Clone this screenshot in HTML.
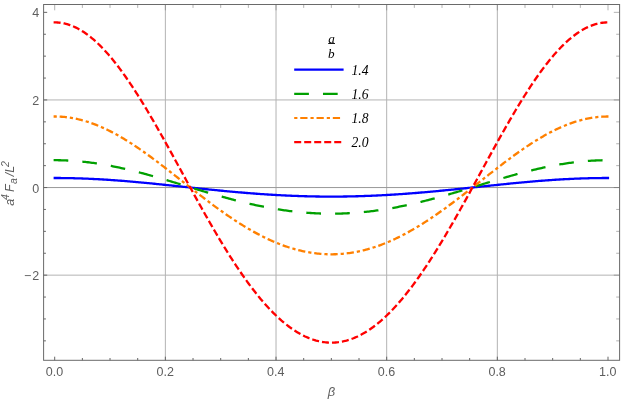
<!DOCTYPE html>
<html><head><meta charset="utf-8"><title>plot</title>
<style>
html,body{margin:0;padding:0;background:#fff;}
body{width:625px;height:400px;overflow:hidden;}
svg{display:block;will-change:transform;}
text{font-family:"Liberation Sans",sans-serif;}
.t{font-size:12.5px;fill:#5e5e5e;}
.s{font-family:"Liberation Serif",serif;font-style:italic;fill:#000;}
</style></head><body>
<svg width="625" height="400" viewBox="0 0 625 400">
<rect width="625" height="400" fill="#fff"/>
<g stroke="#b3b3b3" stroke-width="1" fill="none">
<line x1="165.36" y1="4.50" x2="165.36" y2="360.30"/>
<line x1="276.02" y1="4.50" x2="276.02" y2="360.30"/>
<line x1="386.68" y1="4.50" x2="386.68" y2="360.30"/>
<line x1="497.34" y1="4.50" x2="497.34" y2="360.30"/>
<line x1="43.60" y1="99.95" x2="619.60" y2="99.95"/>
<line x1="43.60" y1="187.55" x2="619.60" y2="187.55" stroke="#999"/>
<line x1="43.60" y1="275.15" x2="619.60" y2="275.15"/>
</g>
<path d="M53.60 178.00 L54.70 178.00 L56.08 178.00 L57.47 178.01 L58.85 178.01 L60.23 178.02 L61.62 178.03 L63.00 178.05 L64.38 178.06 L65.77 178.08 L67.15 178.10 L68.53 178.13 L69.92 178.15 L71.30 178.18 L72.68 178.22 L74.07 178.25 L75.45 178.29 L76.83 178.32 L78.22 178.37 L79.60 178.41 L80.98 178.46 L82.37 178.50 L83.75 178.56 L85.13 178.61 L86.51 178.66 L87.90 178.72 L89.28 178.78 L90.66 178.85 L92.05 178.91 L93.43 178.98 L94.81 179.05 L96.20 179.12 L97.58 179.19 L98.96 179.27 L100.35 179.35 L101.73 179.43 L103.11 179.51 L104.50 179.59 L105.88 179.68 L107.26 179.77 L108.65 179.86 L110.03 179.95 L111.41 180.04 L112.80 180.14 L114.18 180.24 L115.56 180.34 L116.95 180.44 L118.33 180.54 L119.71 180.65 L121.10 180.76 L122.48 180.86 L123.86 180.97 L125.25 181.09 L126.63 181.20 L128.01 181.32 L129.40 181.43 L130.78 181.55 L132.16 181.67 L133.55 181.79 L134.93 181.91 L136.31 182.04 L137.69 182.16 L139.08 182.29 L140.46 182.42 L141.84 182.54 L143.23 182.67 L144.61 182.80 L145.99 182.94 L147.38 183.07 L148.76 183.20 L150.14 183.34 L151.53 183.48 L152.91 183.61 L154.29 183.75 L155.68 183.89 L157.06 184.03 L158.44 184.17 L159.83 184.31 L161.21 184.45 L162.59 184.59 L163.98 184.74 L165.36 184.88 L166.74 185.02 L168.13 185.17 L169.51 185.31 L170.89 185.46 L172.28 185.60 L173.66 185.75 L175.04 185.89 L176.43 186.04 L177.81 186.19 L179.19 186.33 L180.58 186.48 L181.96 186.63 L183.34 186.77 L184.73 186.92 L186.11 187.07 L187.49 187.21 L188.88 187.36 L190.26 187.51 L191.64 187.65 L193.02 187.80 L194.41 187.95 L195.79 188.09 L197.17 188.24 L198.56 188.38 L199.94 188.53 L201.32 188.67 L202.71 188.81 L204.09 188.96 L205.47 189.10 L206.86 189.24 L208.24 189.38 L209.62 189.52 L211.01 189.66 L212.39 189.80 L213.77 189.94 L215.16 190.08 L216.54 190.22 L217.92 190.36 L219.31 190.49 L220.69 190.63 L222.07 190.76 L223.46 190.89 L224.84 191.02 L226.22 191.16 L227.61 191.29 L228.99 191.41 L230.37 191.54 L231.76 191.67 L233.14 191.79 L234.52 191.92 L235.91 192.04 L237.29 192.16 L238.67 192.28 L240.06 192.40 L241.44 192.52 L242.82 192.64 L244.21 192.75 L245.59 192.87 L246.97 192.98 L248.35 193.09 L249.74 193.20 L251.12 193.31 L252.50 193.42 L253.89 193.52 L255.27 193.63 L256.65 193.73 L258.04 193.83 L259.42 193.93 L260.80 194.03 L262.19 194.13 L263.57 194.22 L264.95 194.31 L266.34 194.40 L267.72 194.49 L269.10 194.58 L270.49 194.67 L271.87 194.75 L273.25 194.84 L274.64 194.92 L276.02 195.00 L277.40 195.07 L278.79 195.15 L280.17 195.22 L281.55 195.29 L282.94 195.37 L284.32 195.43 L285.70 195.50 L287.09 195.56 L288.47 195.63 L289.85 195.69 L291.24 195.75 L292.62 195.80 L294.00 195.86 L295.39 195.91 L296.77 195.96 L298.15 196.01 L299.54 196.06 L300.92 196.11 L302.30 196.15 L303.69 196.19 L305.07 196.23 L306.45 196.27 L307.83 196.30 L309.22 196.34 L310.60 196.37 L311.98 196.40 L313.37 196.43 L314.75 196.45 L316.13 196.48 L317.52 196.50 L318.90 196.52 L320.28 196.53 L321.67 196.55 L323.05 196.56 L324.43 196.57 L325.82 196.58 L327.20 196.59 L328.58 196.59 L329.97 196.60 L331.35 196.60 L332.73 196.60 L334.12 196.59 L335.50 196.59 L336.88 196.58 L338.27 196.57 L339.65 196.56 L341.03 196.55 L342.42 196.53 L343.80 196.52 L345.18 196.50 L346.57 196.48 L347.95 196.45 L349.33 196.43 L350.72 196.40 L352.10 196.37 L353.48 196.34 L354.87 196.30 L356.25 196.27 L357.63 196.23 L359.01 196.19 L360.40 196.15 L361.78 196.11 L363.16 196.06 L364.55 196.01 L365.93 195.96 L367.31 195.91 L368.70 195.86 L370.08 195.80 L371.46 195.75 L372.85 195.69 L374.23 195.63 L375.61 195.56 L377.00 195.50 L378.38 195.43 L379.76 195.37 L381.15 195.29 L382.53 195.22 L383.91 195.15 L385.30 195.07 L386.68 195.00 L388.06 194.92 L389.45 194.84 L390.83 194.75 L392.21 194.67 L393.60 194.58 L394.98 194.49 L396.36 194.40 L397.75 194.31 L399.13 194.22 L400.51 194.13 L401.90 194.03 L403.28 193.93 L404.66 193.83 L406.05 193.73 L407.43 193.63 L408.81 193.52 L410.20 193.42 L411.58 193.31 L412.96 193.20 L414.34 193.09 L415.73 192.98 L417.11 192.87 L418.49 192.75 L419.88 192.64 L421.26 192.52 L422.64 192.40 L424.03 192.28 L425.41 192.16 L426.79 192.04 L428.18 191.92 L429.56 191.79 L430.94 191.67 L432.33 191.54 L433.71 191.41 L435.09 191.29 L436.48 191.16 L437.86 191.02 L439.24 190.89 L440.63 190.76 L442.01 190.63 L443.39 190.49 L444.78 190.36 L446.16 190.22 L447.54 190.08 L448.93 189.94 L450.31 189.80 L451.69 189.66 L453.08 189.52 L454.46 189.38 L455.84 189.24 L457.23 189.10 L458.61 188.96 L459.99 188.81 L461.38 188.67 L462.76 188.53 L464.14 188.38 L465.53 188.24 L466.91 188.09 L468.29 187.95 L469.67 187.80 L471.06 187.65 L472.44 187.51 L473.82 187.36 L475.21 187.21 L476.59 187.07 L477.97 186.92 L479.36 186.77 L480.74 186.63 L482.12 186.48 L483.51 186.33 L484.89 186.19 L486.27 186.04 L487.66 185.89 L489.04 185.75 L490.42 185.60 L491.81 185.46 L493.19 185.31 L494.57 185.17 L495.96 185.02 L497.34 184.88 L498.72 184.74 L500.11 184.59 L501.49 184.45 L502.87 184.31 L504.26 184.17 L505.64 184.03 L507.02 183.89 L508.41 183.75 L509.79 183.61 L511.17 183.48 L512.56 183.34 L513.94 183.20 L515.32 183.07 L516.71 182.94 L518.09 182.80 L519.47 182.67 L520.86 182.54 L522.24 182.42 L523.62 182.29 L525.00 182.16 L526.39 182.04 L527.77 181.91 L529.15 181.79 L530.54 181.67 L531.92 181.55 L533.30 181.43 L534.69 181.32 L536.07 181.20 L537.45 181.09 L538.84 180.97 L540.22 180.86 L541.60 180.76 L542.99 180.65 L544.37 180.54 L545.75 180.44 L547.14 180.34 L548.52 180.24 L549.90 180.14 L551.29 180.04 L552.67 179.95 L554.05 179.86 L555.44 179.77 L556.82 179.68 L558.20 179.59 L559.59 179.51 L560.97 179.43 L562.35 179.35 L563.74 179.27 L565.12 179.19 L566.50 179.12 L567.89 179.05 L569.27 178.98 L570.65 178.91 L572.04 178.85 L573.42 178.78 L574.80 178.72 L576.19 178.66 L577.57 178.61 L578.95 178.56 L580.33 178.50 L581.72 178.46 L583.10 178.41 L584.48 178.37 L585.87 178.32 L587.25 178.29 L588.63 178.25 L590.02 178.22 L591.40 178.18 L592.78 178.15 L594.17 178.13 L595.55 178.10 L596.93 178.08 L598.32 178.06 L599.70 178.05 L601.08 178.03 L602.47 178.02 L603.85 178.01 L605.23 178.01 L606.62 178.00 L608.00 178.00 L609.10 178.00" fill="none" stroke="#0000ff" stroke-width="2.3"/>
<path d="M53.60 160.20 L54.70 160.20 L56.08 160.20 L57.47 160.22 L58.85 160.23 L60.23 160.26 L61.62 160.29 L63.00 160.33 L64.38 160.38 L65.77 160.43 L67.15 160.49 L68.53 160.56 L69.92 160.64 L71.30 160.72 L72.68 160.81 L74.07 160.90 L75.45 161.01 L76.83 161.12 L78.22 161.23 L79.60 161.36 L80.98 161.49 L82.37 161.63 L83.75 161.77 L85.13 161.92 L86.51 162.08 L87.90 162.24 L89.28 162.41 L90.66 162.59 L92.05 162.77 L93.43 162.96 L94.81 163.16 L96.20 163.36 L97.58 163.57 L98.96 163.79 L100.35 164.01 L101.73 164.24 L103.11 164.47 L104.50 164.71 L105.88 164.95 L107.26 165.21 L108.65 165.46 L110.03 165.72 L111.41 165.99 L112.80 166.27 L114.18 166.54 L115.56 166.83 L116.95 167.12 L118.33 167.41 L119.71 167.71 L121.10 168.01 L122.48 168.32 L123.86 168.64 L125.25 168.95 L126.63 169.28 L128.01 169.60 L129.40 169.94 L130.78 170.27 L132.16 170.61 L133.55 170.96 L134.93 171.30 L136.31 171.66 L137.69 172.01 L139.08 172.37 L140.46 172.74 L141.84 173.10 L143.23 173.47 L144.61 173.85 L145.99 174.22 L147.38 174.60 L148.76 174.99 L150.14 175.37 L151.53 175.76 L152.91 176.15 L154.29 176.54 L155.68 176.94 L157.06 177.34 L158.44 177.74 L159.83 178.14 L161.21 178.55 L162.59 178.95 L163.98 179.36 L165.36 179.77 L166.74 180.18 L168.13 180.59 L169.51 181.01 L170.89 181.42 L172.28 181.84 L173.66 182.26 L175.04 182.68 L176.43 183.10 L177.81 183.52 L179.19 183.94 L180.58 184.36 L181.96 184.78 L183.34 185.20 L184.73 185.62 L186.11 186.04 L187.49 186.47 L188.88 186.89 L190.26 187.31 L191.64 187.73 L193.02 188.15 L194.41 188.57 L195.79 188.99 L197.17 189.41 L198.56 189.82 L199.94 190.24 L201.32 190.66 L202.71 191.07 L204.09 191.48 L205.47 191.90 L206.86 192.31 L208.24 192.71 L209.62 193.12 L211.01 193.52 L212.39 193.93 L213.77 194.33 L215.16 194.73 L216.54 195.12 L217.92 195.52 L219.31 195.91 L220.69 196.30 L222.07 196.69 L223.46 197.07 L224.84 197.46 L226.22 197.83 L227.61 198.21 L228.99 198.58 L230.37 198.95 L231.76 199.32 L233.14 199.69 L234.52 200.05 L235.91 200.40 L237.29 200.76 L238.67 201.11 L240.06 201.46 L241.44 201.80 L242.82 202.14 L244.21 202.47 L245.59 202.81 L246.97 203.13 L248.35 203.46 L249.74 203.78 L251.12 204.09 L252.50 204.41 L253.89 204.71 L255.27 205.02 L256.65 205.31 L258.04 205.61 L259.42 205.90 L260.80 206.18 L262.19 206.46 L263.57 206.74 L264.95 207.01 L266.34 207.28 L267.72 207.54 L269.10 207.80 L270.49 208.05 L271.87 208.29 L273.25 208.54 L274.64 208.77 L276.02 209.00 L277.40 209.23 L278.79 209.45 L280.17 209.67 L281.55 209.88 L282.94 210.08 L284.32 210.28 L285.70 210.48 L287.09 210.67 L288.47 210.85 L289.85 211.03 L291.24 211.20 L292.62 211.37 L294.00 211.53 L295.39 211.69 L296.77 211.84 L298.15 211.98 L299.54 212.12 L300.92 212.25 L302.30 212.38 L303.69 212.50 L305.07 212.62 L306.45 212.73 L307.83 212.83 L309.22 212.93 L310.60 213.02 L311.98 213.11 L313.37 213.19 L314.75 213.27 L316.13 213.34 L317.52 213.40 L318.90 213.46 L320.28 213.51 L321.67 213.55 L323.05 213.59 L324.43 213.62 L325.82 213.65 L327.20 213.67 L328.58 213.69 L329.97 213.70 L331.35 213.70 L332.73 213.70 L334.12 213.69 L335.50 213.67 L336.88 213.65 L338.27 213.62 L339.65 213.59 L341.03 213.55 L342.42 213.51 L343.80 213.46 L345.18 213.40 L346.57 213.34 L347.95 213.27 L349.33 213.19 L350.72 213.11 L352.10 213.02 L353.48 212.93 L354.87 212.83 L356.25 212.73 L357.63 212.62 L359.01 212.50 L360.40 212.38 L361.78 212.25 L363.16 212.12 L364.55 211.98 L365.93 211.84 L367.31 211.69 L368.70 211.53 L370.08 211.37 L371.46 211.20 L372.85 211.03 L374.23 210.85 L375.61 210.67 L377.00 210.48 L378.38 210.28 L379.76 210.08 L381.15 209.88 L382.53 209.67 L383.91 209.45 L385.30 209.23 L386.68 209.00 L388.06 208.77 L389.45 208.54 L390.83 208.29 L392.21 208.05 L393.60 207.80 L394.98 207.54 L396.36 207.28 L397.75 207.01 L399.13 206.74 L400.51 206.46 L401.90 206.18 L403.28 205.90 L404.66 205.61 L406.05 205.31 L407.43 205.02 L408.81 204.71 L410.20 204.41 L411.58 204.09 L412.96 203.78 L414.34 203.46 L415.73 203.13 L417.11 202.81 L418.49 202.47 L419.88 202.14 L421.26 201.80 L422.64 201.46 L424.03 201.11 L425.41 200.76 L426.79 200.40 L428.18 200.05 L429.56 199.69 L430.94 199.32 L432.33 198.95 L433.71 198.58 L435.09 198.21 L436.48 197.83 L437.86 197.46 L439.24 197.07 L440.63 196.69 L442.01 196.30 L443.39 195.91 L444.78 195.52 L446.16 195.12 L447.54 194.73 L448.93 194.33 L450.31 193.93 L451.69 193.52 L453.08 193.12 L454.46 192.71 L455.84 192.31 L457.23 191.90 L458.61 191.48 L459.99 191.07 L461.38 190.66 L462.76 190.24 L464.14 189.82 L465.53 189.41 L466.91 188.99 L468.29 188.57 L469.67 188.15 L471.06 187.73 L472.44 187.31 L473.82 186.89 L475.21 186.47 L476.59 186.04 L477.97 185.62 L479.36 185.20 L480.74 184.78 L482.12 184.36 L483.51 183.94 L484.89 183.52 L486.27 183.10 L487.66 182.68 L489.04 182.26 L490.42 181.84 L491.81 181.42 L493.19 181.01 L494.57 180.59 L495.96 180.18 L497.34 179.77 L498.72 179.36 L500.11 178.95 L501.49 178.55 L502.87 178.14 L504.26 177.74 L505.64 177.34 L507.02 176.94 L508.41 176.54 L509.79 176.15 L511.17 175.76 L512.56 175.37 L513.94 174.99 L515.32 174.60 L516.71 174.22 L518.09 173.85 L519.47 173.47 L520.86 173.10 L522.24 172.74 L523.62 172.37 L525.00 172.01 L526.39 171.66 L527.77 171.30 L529.15 170.96 L530.54 170.61 L531.92 170.27 L533.30 169.94 L534.69 169.60 L536.07 169.28 L537.45 168.95 L538.84 168.64 L540.22 168.32 L541.60 168.01 L542.99 167.71 L544.37 167.41 L545.75 167.12 L547.14 166.83 L548.52 166.54 L549.90 166.27 L551.29 165.99 L552.67 165.72 L554.05 165.46 L555.44 165.21 L556.82 164.95 L558.20 164.71 L559.59 164.47 L560.97 164.24 L562.35 164.01 L563.74 163.79 L565.12 163.57 L566.50 163.36 L567.89 163.16 L569.27 162.96 L570.65 162.77 L572.04 162.59 L573.42 162.41 L574.80 162.24 L576.19 162.08 L577.57 161.92 L578.95 161.77 L580.33 161.63 L581.72 161.49 L583.10 161.36 L584.48 161.23 L585.87 161.12 L587.25 161.01 L588.63 160.90 L590.02 160.81 L591.40 160.72 L592.78 160.64 L594.17 160.56 L595.55 160.49 L596.93 160.43 L598.32 160.38 L599.70 160.33 L601.08 160.29 L602.47 160.26 L603.85 160.23 L605.23 160.22 L606.62 160.20 L608.00 160.20 L609.10 160.20" fill="none" stroke="#00a000" stroke-width="2.3" stroke-dasharray="14.7 14.08"/>
<path d="M53.60 116.51 L54.70 116.51 L56.08 116.52 L57.47 116.54 L58.85 116.59 L60.23 116.66 L61.62 116.75 L63.00 116.85 L64.38 116.97 L65.77 117.12 L67.15 117.28 L68.53 117.46 L69.92 117.66 L71.30 117.88 L72.68 118.11 L74.07 118.37 L75.45 118.64 L76.83 118.94 L78.22 119.25 L79.60 119.58 L80.98 119.92 L82.37 120.29 L83.75 120.67 L85.13 121.07 L86.51 121.49 L87.90 121.93 L89.28 122.38 L90.66 122.85 L92.05 123.34 L93.43 123.84 L94.81 124.36 L96.20 124.90 L97.58 125.45 L98.96 126.02 L100.35 126.61 L101.73 127.21 L103.11 127.83 L104.50 128.46 L105.88 129.11 L107.26 129.78 L108.65 130.45 L110.03 131.15 L111.41 131.86 L112.80 132.58 L114.18 133.31 L115.56 134.06 L116.95 134.82 L118.33 135.60 L119.71 136.39 L121.10 137.19 L122.48 138.01 L123.86 138.83 L125.25 139.67 L126.63 140.52 L128.01 141.38 L129.40 142.26 L130.78 143.14 L132.16 144.04 L133.55 144.94 L134.93 145.86 L136.31 146.78 L137.69 147.72 L139.08 148.66 L140.46 149.61 L141.84 150.58 L143.23 151.55 L144.61 152.53 L145.99 153.51 L147.38 154.51 L148.76 155.51 L150.14 156.52 L151.53 157.53 L152.91 158.55 L154.29 159.58 L155.68 160.62 L157.06 161.66 L158.44 162.70 L159.83 163.75 L161.21 164.81 L162.59 165.87 L163.98 166.93 L165.36 168.00 L166.74 169.07 L168.13 170.14 L169.51 171.22 L170.89 172.30 L172.28 173.38 L173.66 174.46 L175.04 175.55 L176.43 176.64 L177.81 177.72 L179.19 178.81 L180.58 179.90 L181.96 180.99 L183.34 182.08 L184.73 183.17 L186.11 184.26 L187.49 185.35 L188.88 186.44 L190.26 187.53 L191.64 188.61 L193.02 189.70 L194.41 190.78 L195.79 191.86 L197.17 192.93 L198.56 194.01 L199.94 195.08 L201.32 196.14 L202.71 197.20 L204.09 198.26 L205.47 199.32 L206.86 200.37 L208.24 201.41 L209.62 202.46 L211.01 203.49 L212.39 204.52 L213.77 205.55 L215.16 206.56 L216.54 207.58 L217.92 208.58 L219.31 209.58 L220.69 210.58 L222.07 211.56 L223.46 212.54 L224.84 213.51 L226.22 214.48 L227.61 215.43 L228.99 216.38 L230.37 217.32 L231.76 218.25 L233.14 219.18 L234.52 220.09 L235.91 221.00 L237.29 221.89 L238.67 222.78 L240.06 223.66 L241.44 224.52 L242.82 225.38 L244.21 226.23 L245.59 227.07 L246.97 227.89 L248.35 228.71 L249.74 229.52 L251.12 230.31 L252.50 231.10 L253.89 231.87 L255.27 232.63 L256.65 233.38 L258.04 234.12 L259.42 234.85 L260.80 235.56 L262.19 236.27 L263.57 236.96 L264.95 237.64 L266.34 238.31 L267.72 238.96 L269.10 239.60 L270.49 240.23 L271.87 240.85 L273.25 241.46 L274.64 242.05 L276.02 242.63 L277.40 243.19 L278.79 243.74 L280.17 244.28 L281.55 244.81 L282.94 245.32 L284.32 245.82 L285.70 246.30 L287.09 246.78 L288.47 247.23 L289.85 247.68 L291.24 248.11 L292.62 248.52 L294.00 248.92 L295.39 249.31 L296.77 249.69 L298.15 250.04 L299.54 250.39 L300.92 250.72 L302.30 251.04 L303.69 251.34 L305.07 251.63 L306.45 251.90 L307.83 252.16 L309.22 252.40 L310.60 252.63 L311.98 252.85 L313.37 253.05 L314.75 253.23 L316.13 253.40 L317.52 253.56 L318.90 253.70 L320.28 253.83 L321.67 253.94 L323.05 254.03 L324.43 254.12 L325.82 254.18 L327.20 254.23 L328.58 254.27 L329.97 254.29 L331.35 254.30 L332.73 254.29 L334.12 254.27 L335.50 254.23 L336.88 254.18 L338.27 254.12 L339.65 254.03 L341.03 253.94 L342.42 253.83 L343.80 253.70 L345.18 253.56 L346.57 253.40 L347.95 253.23 L349.33 253.05 L350.72 252.85 L352.10 252.63 L353.48 252.40 L354.87 252.16 L356.25 251.90 L357.63 251.63 L359.01 251.34 L360.40 251.04 L361.78 250.72 L363.16 250.39 L364.55 250.04 L365.93 249.69 L367.31 249.31 L368.70 248.92 L370.08 248.52 L371.46 248.11 L372.85 247.68 L374.23 247.23 L375.61 246.78 L377.00 246.30 L378.38 245.82 L379.76 245.32 L381.15 244.81 L382.53 244.28 L383.91 243.74 L385.30 243.19 L386.68 242.63 L388.06 242.05 L389.45 241.46 L390.83 240.85 L392.21 240.23 L393.60 239.60 L394.98 238.96 L396.36 238.31 L397.75 237.64 L399.13 236.96 L400.51 236.27 L401.90 235.56 L403.28 234.85 L404.66 234.12 L406.05 233.38 L407.43 232.63 L408.81 231.87 L410.20 231.10 L411.58 230.31 L412.96 229.52 L414.34 228.71 L415.73 227.89 L417.11 227.07 L418.49 226.23 L419.88 225.38 L421.26 224.52 L422.64 223.66 L424.03 222.78 L425.41 221.89 L426.79 221.00 L428.18 220.09 L429.56 219.18 L430.94 218.25 L432.33 217.32 L433.71 216.38 L435.09 215.43 L436.48 214.48 L437.86 213.51 L439.24 212.54 L440.63 211.56 L442.01 210.58 L443.39 209.58 L444.78 208.58 L446.16 207.58 L447.54 206.56 L448.93 205.55 L450.31 204.52 L451.69 203.49 L453.08 202.46 L454.46 201.41 L455.84 200.37 L457.23 199.32 L458.61 198.26 L459.99 197.20 L461.38 196.14 L462.76 195.08 L464.14 194.01 L465.53 192.93 L466.91 191.86 L468.29 190.78 L469.67 189.70 L471.06 188.61 L472.44 187.53 L473.82 186.44 L475.21 185.35 L476.59 184.26 L477.97 183.17 L479.36 182.08 L480.74 180.99 L482.12 179.90 L483.51 178.81 L484.89 177.72 L486.27 176.64 L487.66 175.55 L489.04 174.46 L490.42 173.38 L491.81 172.30 L493.19 171.22 L494.57 170.14 L495.96 169.07 L497.34 168.00 L498.72 166.93 L500.11 165.87 L501.49 164.81 L502.87 163.75 L504.26 162.70 L505.64 161.66 L507.02 160.62 L508.41 159.58 L509.79 158.55 L511.17 157.53 L512.56 156.52 L513.94 155.51 L515.32 154.51 L516.71 153.51 L518.09 152.53 L519.47 151.55 L520.86 150.58 L522.24 149.61 L523.62 148.66 L525.00 147.72 L526.39 146.78 L527.77 145.86 L529.15 144.94 L530.54 144.04 L531.92 143.14 L533.30 142.26 L534.69 141.38 L536.07 140.52 L537.45 139.67 L538.84 138.83 L540.22 138.01 L541.60 137.19 L542.99 136.39 L544.37 135.60 L545.75 134.82 L547.14 134.06 L548.52 133.31 L549.90 132.58 L551.29 131.86 L552.67 131.15 L554.05 130.45 L555.44 129.78 L556.82 129.11 L558.20 128.46 L559.59 127.83 L560.97 127.21 L562.35 126.61 L563.74 126.02 L565.12 125.45 L566.50 124.90 L567.89 124.36 L569.27 123.84 L570.65 123.34 L572.04 122.85 L573.42 122.38 L574.80 121.93 L576.19 121.49 L577.57 121.07 L578.95 120.67 L580.33 120.29 L581.72 119.92 L583.10 119.58 L584.48 119.25 L585.87 118.94 L587.25 118.64 L588.63 118.37 L590.02 118.11 L591.40 117.88 L592.78 117.66 L594.17 117.46 L595.55 117.28 L596.93 117.12 L598.32 116.97 L599.70 116.85 L601.08 116.75 L602.47 116.66 L603.85 116.59 L605.23 116.54 L606.62 116.52 L608.00 116.51 L609.10 116.51" fill="none" stroke="#ff8000" stroke-width="2.3" stroke-dasharray="3.2 2.85 7.25 2.98"/>
<path d="M53.60 22.40 L54.70 22.40 L56.08 22.42 L57.47 22.49 L58.85 22.60 L60.23 22.76 L61.62 22.96 L63.00 23.20 L64.38 23.49 L65.77 23.82 L67.15 24.20 L68.53 24.62 L69.92 25.08 L71.30 25.59 L72.68 26.14 L74.07 26.74 L75.45 27.37 L76.83 28.05 L78.22 28.78 L79.60 29.54 L80.98 30.35 L82.37 31.20 L83.75 32.09 L85.13 33.02 L86.51 33.99 L87.90 35.01 L89.28 36.06 L90.66 37.16 L92.05 38.29 L93.43 39.46 L94.81 40.68 L96.20 41.93 L97.58 43.21 L98.96 44.54 L100.35 45.90 L101.73 47.31 L103.11 48.74 L104.50 50.21 L105.88 51.72 L107.26 53.27 L108.65 54.84 L110.03 56.46 L111.41 58.10 L112.80 59.78 L114.18 61.49 L115.56 63.23 L116.95 65.01 L118.33 66.81 L119.71 68.65 L121.10 70.51 L122.48 72.40 L123.86 74.33 L125.25 76.28 L126.63 78.25 L128.01 80.26 L129.40 82.29 L130.78 84.35 L132.16 86.43 L133.55 88.53 L134.93 90.66 L136.31 92.81 L137.69 94.99 L139.08 97.18 L140.46 99.40 L141.84 101.64 L143.23 103.89 L144.61 106.17 L145.99 108.46 L147.38 110.77 L148.76 113.10 L150.14 115.45 L151.53 117.81 L152.91 120.19 L154.29 122.58 L155.68 124.98 L157.06 127.40 L158.44 129.83 L159.83 132.27 L161.21 134.72 L162.59 137.18 L163.98 139.66 L165.36 142.14 L166.74 144.62 L168.13 147.12 L169.51 149.62 L170.89 152.13 L172.28 154.65 L173.66 157.17 L175.04 159.69 L176.43 162.22 L177.81 164.75 L179.19 167.28 L180.58 169.82 L181.96 172.35 L183.34 174.88 L184.73 177.42 L186.11 179.95 L187.49 182.48 L188.88 185.01 L190.26 187.54 L191.64 190.06 L193.02 192.58 L194.41 195.09 L195.79 197.60 L197.17 200.10 L198.56 202.59 L199.94 205.08 L201.32 207.56 L202.71 210.03 L204.09 212.49 L205.47 214.94 L206.86 217.38 L208.24 219.81 L209.62 222.23 L211.01 224.63 L212.39 227.03 L213.77 229.41 L215.16 231.78 L216.54 234.13 L217.92 236.47 L219.31 238.79 L220.69 241.10 L222.07 243.39 L223.46 245.66 L224.84 247.92 L226.22 250.16 L227.61 252.38 L228.99 254.58 L230.37 256.77 L231.76 258.93 L233.14 261.07 L234.52 263.20 L235.91 265.30 L237.29 267.38 L238.67 269.44 L240.06 271.48 L241.44 273.50 L242.82 275.49 L244.21 277.46 L245.59 279.40 L246.97 281.32 L248.35 283.22 L249.74 285.09 L251.12 286.94 L252.50 288.76 L253.89 290.56 L255.27 292.33 L256.65 294.07 L258.04 295.79 L259.42 297.48 L260.80 299.14 L262.19 300.77 L263.57 302.38 L264.95 303.96 L266.34 305.51 L267.72 307.03 L269.10 308.52 L270.49 309.98 L271.87 311.42 L273.25 312.82 L274.64 314.19 L276.02 315.54 L277.40 316.85 L278.79 318.13 L280.17 319.38 L281.55 320.61 L282.94 321.79 L284.32 322.95 L285.70 324.08 L287.09 325.17 L288.47 326.24 L289.85 327.27 L291.24 328.26 L292.62 329.23 L294.00 330.16 L295.39 331.06 L296.77 331.93 L298.15 332.76 L299.54 333.56 L300.92 334.33 L302.30 335.07 L303.69 335.77 L305.07 336.44 L306.45 337.07 L307.83 337.67 L309.22 338.24 L310.60 338.77 L311.98 339.27 L313.37 339.73 L314.75 340.16 L316.13 340.56 L317.52 340.92 L318.90 341.25 L320.28 341.54 L321.67 341.80 L323.05 342.02 L324.43 342.21 L325.82 342.37 L327.20 342.49 L328.58 342.58 L329.97 342.63 L331.35 342.65 L332.73 342.63 L334.12 342.58 L335.50 342.49 L336.88 342.37 L338.27 342.21 L339.65 342.02 L341.03 341.80 L342.42 341.54 L343.80 341.25 L345.18 340.92 L346.57 340.56 L347.95 340.16 L349.33 339.73 L350.72 339.27 L352.10 338.77 L353.48 338.24 L354.87 337.67 L356.25 337.07 L357.63 336.44 L359.01 335.77 L360.40 335.07 L361.78 334.33 L363.16 333.56 L364.55 332.76 L365.93 331.93 L367.31 331.06 L368.70 330.16 L370.08 329.23 L371.46 328.26 L372.85 327.27 L374.23 326.24 L375.61 325.17 L377.00 324.08 L378.38 322.95 L379.76 321.79 L381.15 320.61 L382.53 319.38 L383.91 318.13 L385.30 316.85 L386.68 315.54 L388.06 314.19 L389.45 312.82 L390.83 311.42 L392.21 309.98 L393.60 308.52 L394.98 307.03 L396.36 305.51 L397.75 303.96 L399.13 302.38 L400.51 300.77 L401.90 299.14 L403.28 297.48 L404.66 295.79 L406.05 294.07 L407.43 292.33 L408.81 290.56 L410.20 288.76 L411.58 286.94 L412.96 285.09 L414.34 283.22 L415.73 281.32 L417.11 279.40 L418.49 277.46 L419.88 275.49 L421.26 273.50 L422.64 271.48 L424.03 269.44 L425.41 267.38 L426.79 265.30 L428.18 263.20 L429.56 261.07 L430.94 258.93 L432.33 256.77 L433.71 254.58 L435.09 252.38 L436.48 250.16 L437.86 247.92 L439.24 245.66 L440.63 243.39 L442.01 241.10 L443.39 238.79 L444.78 236.47 L446.16 234.13 L447.54 231.78 L448.93 229.41 L450.31 227.03 L451.69 224.63 L453.08 222.23 L454.46 219.81 L455.84 217.38 L457.23 214.94 L458.61 212.49 L459.99 210.03 L461.38 207.56 L462.76 205.08 L464.14 202.59 L465.53 200.10 L466.91 197.60 L468.29 195.09 L469.67 192.58 L471.06 190.06 L472.44 187.54 L473.82 185.01 L475.21 182.48 L476.59 179.95 L477.97 177.42 L479.36 174.88 L480.74 172.35 L482.12 169.82 L483.51 167.28 L484.89 164.75 L486.27 162.22 L487.66 159.69 L489.04 157.17 L490.42 154.65 L491.81 152.13 L493.19 149.62 L494.57 147.12 L495.96 144.62 L497.34 142.14 L498.72 139.66 L500.11 137.18 L501.49 134.72 L502.87 132.27 L504.26 129.83 L505.64 127.40 L507.02 124.98 L508.41 122.58 L509.79 120.19 L511.17 117.81 L512.56 115.45 L513.94 113.10 L515.32 110.77 L516.71 108.46 L518.09 106.17 L519.47 103.89 L520.86 101.64 L522.24 99.40 L523.62 97.18 L525.00 94.99 L526.39 92.81 L527.77 90.66 L529.15 88.53 L530.54 86.43 L531.92 84.35 L533.30 82.29 L534.69 80.26 L536.07 78.25 L537.45 76.28 L538.84 74.33 L540.22 72.40 L541.60 70.51 L542.99 68.65 L544.37 66.81 L545.75 65.01 L547.14 63.23 L548.52 61.49 L549.90 59.78 L551.29 58.10 L552.67 56.46 L554.05 54.84 L555.44 53.27 L556.82 51.72 L558.20 50.21 L559.59 48.74 L560.97 47.31 L562.35 45.90 L563.74 44.54 L565.12 43.21 L566.50 41.93 L567.89 40.68 L569.27 39.46 L570.65 38.29 L572.04 37.16 L573.42 36.06 L574.80 35.01 L576.19 33.99 L577.57 33.02 L578.95 32.09 L580.33 31.20 L581.72 30.35 L583.10 29.54 L584.48 28.78 L585.87 28.05 L587.25 27.37 L588.63 26.74 L590.02 26.14 L591.40 25.59 L592.78 25.08 L594.17 24.62 L595.55 24.20 L596.93 23.82 L598.32 23.49 L599.70 23.20 L601.08 22.96 L602.47 22.76 L603.85 22.60 L605.23 22.49 L606.62 22.42 L608.00 22.40 L609.10 22.40" fill="none" stroke="#ff0000" stroke-width="2.3" stroke-dasharray="7.0 3.01"/>
<g stroke="#6a6a6a" stroke-width="1" fill="none">
<rect x="43.60" y="4.50" width="576.00" height="355.80"/>
</g><g stroke="#666" stroke-width="0.5" fill="none">
<line stroke-width="1" x1="54.70" y1="360.30" x2="54.70" y2="356.70"/>
<line x1="54.70" y1="4.50" x2="54.70" y2="10.30"/>
<line stroke-width="1" x1="82.37" y1="360.30" x2="82.37" y2="358.00"/>
<line x1="82.37" y1="4.50" x2="82.37" y2="7.90"/>
<line stroke-width="1" x1="110.03" y1="360.30" x2="110.03" y2="358.00"/>
<line x1="110.03" y1="4.50" x2="110.03" y2="7.90"/>
<line stroke-width="1" x1="137.69" y1="360.30" x2="137.69" y2="358.00"/>
<line x1="137.69" y1="4.50" x2="137.69" y2="7.90"/>
<line stroke-width="1" x1="165.36" y1="360.30" x2="165.36" y2="356.70"/>
<line x1="165.36" y1="4.50" x2="165.36" y2="10.30"/>
<line stroke-width="1" x1="193.02" y1="360.30" x2="193.02" y2="358.00"/>
<line x1="193.02" y1="4.50" x2="193.02" y2="7.90"/>
<line stroke-width="1" x1="220.69" y1="360.30" x2="220.69" y2="358.00"/>
<line x1="220.69" y1="4.50" x2="220.69" y2="7.90"/>
<line stroke-width="1" x1="248.36" y1="360.30" x2="248.36" y2="358.00"/>
<line x1="248.36" y1="4.50" x2="248.36" y2="7.90"/>
<line stroke-width="1" x1="276.02" y1="360.30" x2="276.02" y2="356.70"/>
<line x1="276.02" y1="4.50" x2="276.02" y2="10.30"/>
<line stroke-width="1" x1="303.69" y1="360.30" x2="303.69" y2="358.00"/>
<line x1="303.69" y1="4.50" x2="303.69" y2="7.90"/>
<line stroke-width="1" x1="331.35" y1="360.30" x2="331.35" y2="358.00"/>
<line x1="331.35" y1="4.50" x2="331.35" y2="7.90"/>
<line stroke-width="1" x1="359.01" y1="360.30" x2="359.01" y2="358.00"/>
<line x1="359.01" y1="4.50" x2="359.01" y2="7.90"/>
<line stroke-width="1" x1="386.68" y1="360.30" x2="386.68" y2="356.70"/>
<line x1="386.68" y1="4.50" x2="386.68" y2="10.30"/>
<line stroke-width="1" x1="414.34" y1="360.30" x2="414.34" y2="358.00"/>
<line x1="414.34" y1="4.50" x2="414.34" y2="7.90"/>
<line stroke-width="1" x1="442.01" y1="360.30" x2="442.01" y2="358.00"/>
<line x1="442.01" y1="4.50" x2="442.01" y2="7.90"/>
<line stroke-width="1" x1="469.67" y1="360.30" x2="469.67" y2="358.00"/>
<line x1="469.67" y1="4.50" x2="469.67" y2="7.90"/>
<line stroke-width="1" x1="497.34" y1="360.30" x2="497.34" y2="356.70"/>
<line x1="497.34" y1="4.50" x2="497.34" y2="10.30"/>
<line stroke-width="1" x1="525.00" y1="360.30" x2="525.00" y2="358.00"/>
<line x1="525.00" y1="4.50" x2="525.00" y2="7.90"/>
<line stroke-width="1" x1="552.67" y1="360.30" x2="552.67" y2="358.00"/>
<line x1="552.67" y1="4.50" x2="552.67" y2="7.90"/>
<line stroke-width="1" x1="580.34" y1="360.30" x2="580.34" y2="358.00"/>
<line x1="580.34" y1="4.50" x2="580.34" y2="7.90"/>
<line stroke-width="1" x1="608.00" y1="360.30" x2="608.00" y2="356.70"/>
<line x1="608.00" y1="4.50" x2="608.00" y2="10.30"/>
<line stroke-width="1" x1="43.60" y1="340.85" x2="45.90" y2="340.85"/>
<line x1="619.60" y1="340.85" x2="616.20" y2="340.85"/>
<line stroke-width="1" x1="43.60" y1="318.95" x2="45.90" y2="318.95"/>
<line x1="619.60" y1="318.95" x2="616.20" y2="318.95"/>
<line stroke-width="1" x1="43.60" y1="297.05" x2="45.90" y2="297.05"/>
<line x1="619.60" y1="297.05" x2="616.20" y2="297.05"/>
<line stroke-width="1" x1="43.60" y1="275.15" x2="47.20" y2="275.15"/>
<line x1="619.60" y1="275.15" x2="613.80" y2="275.15"/>
<line stroke-width="1" x1="43.60" y1="253.25" x2="45.90" y2="253.25"/>
<line x1="619.60" y1="253.25" x2="616.20" y2="253.25"/>
<line stroke-width="1" x1="43.60" y1="231.35" x2="45.90" y2="231.35"/>
<line x1="619.60" y1="231.35" x2="616.20" y2="231.35"/>
<line stroke-width="1" x1="43.60" y1="209.45" x2="45.90" y2="209.45"/>
<line x1="619.60" y1="209.45" x2="616.20" y2="209.45"/>
<line stroke-width="1" x1="43.60" y1="187.55" x2="47.20" y2="187.55"/>
<line x1="619.60" y1="187.55" x2="613.80" y2="187.55"/>
<line stroke-width="1" x1="43.60" y1="165.65" x2="45.90" y2="165.65"/>
<line x1="619.60" y1="165.65" x2="616.20" y2="165.65"/>
<line stroke-width="1" x1="43.60" y1="143.75" x2="45.90" y2="143.75"/>
<line x1="619.60" y1="143.75" x2="616.20" y2="143.75"/>
<line stroke-width="1" x1="43.60" y1="121.85" x2="45.90" y2="121.85"/>
<line x1="619.60" y1="121.85" x2="616.20" y2="121.85"/>
<line stroke-width="1" x1="43.60" y1="99.95" x2="47.20" y2="99.95"/>
<line x1="619.60" y1="99.95" x2="613.80" y2="99.95"/>
<line stroke-width="1" x1="43.60" y1="78.05" x2="45.90" y2="78.05"/>
<line x1="619.60" y1="78.05" x2="616.20" y2="78.05"/>
<line stroke-width="1" x1="43.60" y1="56.15" x2="45.90" y2="56.15"/>
<line x1="619.60" y1="56.15" x2="616.20" y2="56.15"/>
<line stroke-width="1" x1="43.60" y1="34.25" x2="45.90" y2="34.25"/>
<line x1="619.60" y1="34.25" x2="616.20" y2="34.25"/>
<line stroke-width="1" x1="43.60" y1="12.35" x2="47.20" y2="12.35"/>
<line x1="619.60" y1="12.35" x2="613.80" y2="12.35"/>
</g>
<text class="t" x="54.50" y="375.8" text-anchor="middle">0.0</text>
<text class="t" x="165.16" y="375.8" text-anchor="middle">0.2</text>
<text class="t" x="275.82" y="375.8" text-anchor="middle">0.4</text>
<text class="t" x="386.48" y="375.8" text-anchor="middle">0.6</text>
<text class="t" x="497.14" y="375.8" text-anchor="middle">0.8</text>
<text class="t" x="607.80" y="375.8" text-anchor="middle">1.0</text>
<text class="t" x="39.2" y="17.45" text-anchor="end">4</text>
<text class="t" x="39.2" y="105.05" text-anchor="end">2</text>
<text class="t" x="39.2" y="192.65" text-anchor="end">0</text>
<text class="t" x="39.2" y="280.25" text-anchor="end">2</text>
<text class="t" x="31.3" y="280.25" text-anchor="end">−</text>
<text class="t" x="331.5" y="396" text-anchor="middle" font-style="italic" style="font-size:12.9px">β</text>
<g transform="translate(13.8,205.8) rotate(-90)" class="t" font-style="italic" font-size="12.5">
<text x="0" y="0">a</text>
<text x="5.7" y="-5.25" font-size="10.5">4</text>
<text x="13.8" y="0">F</text>
<text x="21.9" y="3.1" font-size="10.5">a</text>
<text x="29.5" y="0">/</text>
<text x="33.1" y="0">L</text>
<text x="38.7" y="-5.05" font-size="10.5">2</text>
</g>
<text class="s" x="331.6" y="42.7" font-size="13.2" text-anchor="middle">a</text>
<line x1="328.2" y1="43.5" x2="335" y2="43.5" stroke="#000" stroke-width="0.9"/>
<text class="s" x="331.4" y="57.8" font-size="13.2" text-anchor="middle">b</text>
<line x1="294.2" y1="69.7" x2="343.6" y2="69.7" stroke="#0000ff" stroke-width="2.2"/>
<text class="s" x="351.5" y="74.8" font-size="13.6">1.4</text>
<line x1="294.2" y1="93.9" x2="343.6" y2="93.9" stroke="#00a000" stroke-width="2.2" stroke-dasharray="14.7 14.08"/>
<text class="s" x="351.5" y="99.0" font-size="13.6">1.6</text>
<line x1="294.2" y1="118.0" x2="340.5" y2="118.0" stroke="#ff8000" stroke-width="2.2" stroke-dasharray="3.2 2.85 7.25 2.98"/>
<text class="s" x="351.5" y="123.1" font-size="13.6">1.8</text>
<line x1="294.2" y1="142.2" x2="341.6" y2="142.2" stroke="#ff0000" stroke-width="2.2" stroke-dasharray="7.0 3.01"/>
<text class="s" x="351.5" y="147.3" font-size="13.6">2.0</text>
</svg></body></html>
